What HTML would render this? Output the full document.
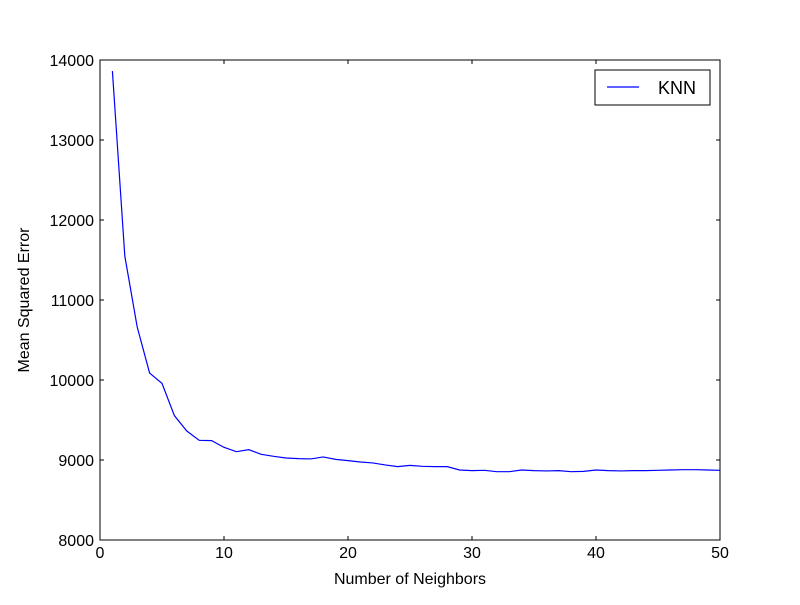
<!DOCTYPE html>
<html><head><meta charset="utf-8"><style>
body{margin:0;background:#fff;}
svg text{font-family:"Liberation Sans","DejaVu Sans",sans-serif;}
</style></head><body>
<svg id="chart" width="800" height="600">
<rect x="0" y="0" width="800" height="600" fill="#fff"/>
<g id="ticks"></g>
<path id="line" fill="none" stroke="#0000ff" stroke-width="1.2"/>
<rect x="100" y="60" width="620" height="480" fill="none" stroke="#000" stroke-width="1"/>
<text x="410" y="584" font-size="16" text-anchor="middle">Number of Neighbors</text>
<text x="29" y="300" font-size="16" text-anchor="middle" transform="rotate(-90 29 300)">Mean Squared Error</text>
<g>
<rect x="595" y="70" width="115" height="35" fill="#fff" stroke="#000" stroke-width="1"/>
<line x1="607" y1="87" x2="639" y2="87" stroke="#0000ff" stroke-width="1.2"/>
<text x="658" y="94" font-size="18">KNN</text>
</g>
</svg>
<script>
const neighbors=[];for(let i=1;i<=50;i++)neighbors.push(i);
const mseValues=[13862,11550,10662,10087,9958,9554,9362,9246,9242,9158,9104,9129,9071,9046,9025,9017,9013,9038,9008,8992,8975,8963,8938,8917,8933,8921,8917,8917,8875,8867,8871,8854,8854,8875,8867,8863,8867,8854,8858,8875,8867,8863,8867,8867,8871,8875,8879,8879,8875,8871];
const xTicks=[0,10,20,30,40,50];
const yTicks=[8000,9000,10000,11000,12000,13000,14000];
const xs=v=>100+v/50*620;
const ys=v=>540-(v-8000)/6000*480;
const NS='http://www.w3.org/2000/svg';
const g=document.getElementById('ticks');
function mk(t,a){const e=document.createElementNS(NS,t);for(const k in a)e.setAttribute(k,a[k]);g.appendChild(e);return e;}
xTicks.forEach(v=>{const x=xs(v);
mk('line',{x1:x,y1:540,x2:x,y2:536,stroke:'#000'});
mk('line',{x1:x,y1:60,x2:x,y2:64,stroke:'#000'});
const t=mk('text',{x:x,y:558,'font-size':16,'text-anchor':'middle'});t.textContent=v;

});
yTicks.forEach(v=>{const y=ys(v);
mk('line',{x1:100,y1:y,x2:104,y2:y,stroke:'#000'});
mk('line',{x1:720,y1:y,x2:716,y2:y,stroke:'#000'});
const t=mk('text',{x:94,y:y+6,'font-size':16,'text-anchor':'end'});t.textContent=v;

});
document.getElementById('line').setAttribute('d',neighbors.map((k,i)=>(i?'L':'M')+xs(k)+' '+ys(mseValues[i])).join(' '));
</script>
</body></html>
